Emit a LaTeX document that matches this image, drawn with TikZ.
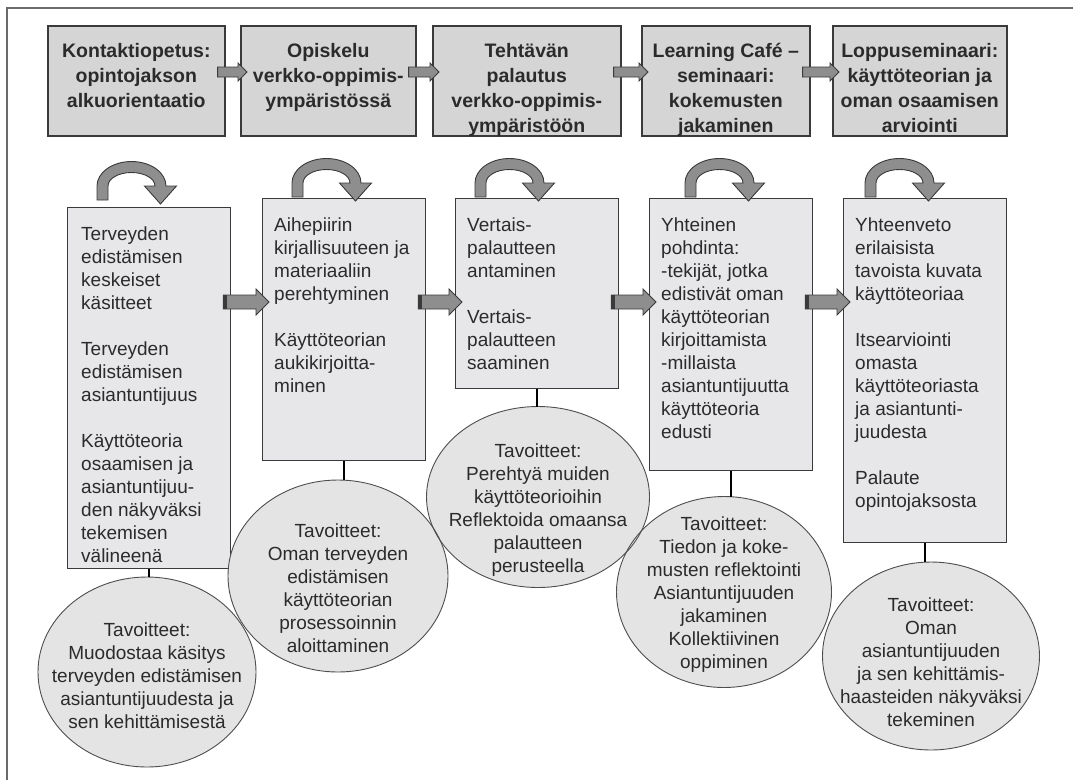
\documentclass[tikz,border=0pt]{standalone}
\usepackage{fontspec}
\setmainfont{Liberation Sans}
\usetikzlibrary{calc,shapes.geometric}
\definecolor{ink}{HTML}{2B2B2B}
\definecolor{boxline}{HTML}{3A3A3A}
\definecolor{topfill}{HTML}{D5D5D5}
\definecolor{lowfill}{HTML}{E7E7EA}
\definecolor{goalfill}{HTML}{E4E4E4}
\definecolor{flowfill}{HTML}{8E8E8E}
\definecolor{rim}{HTML}{6A6A6A}
\tikzset{
  phase/.style={draw=boxline, line width=1.6pt, fill=topfill, minimum height=110pt, anchor=north west, inner sep=0pt},
  phasetext/.style={anchor=north, align=center, text=ink, inner sep=0pt, font=\fontsize{19.5}{25}\selectfont\bfseries},
  work/.style={draw=boxline, line width=1.2pt, fill=lowfill, minimum width=163pt, anchor=north west, inner sep=0pt},
  worktext/.style={anchor=north west, align=left, text=ink, inner sep=0pt, font=\fontsize{19}{23}\selectfont},
  goal/.style={ellipse, fill=goalfill, inner sep=0pt, outer sep=0pt},
  goalline/.style={draw=boxline!90, line width=0.9pt},
  goaltext/.style={align=center, text=ink, inner sep=0pt, font=\fontsize{19}{23}\selectfont},
  link/.style={line width=2.6pt, draw=black},
  flow/.style={fill=flowfill, draw=boxline, line width=0.9pt},
  turn/.pic={
    \filldraw[flow] (-34.5,0) -- (-34.5,-14)
      arc[start angle=180, end angle=360, x radius=34.5, y radius=24.5]
      -- (45,-14) -- (29,4) -- (13,-14) -- (23.5,-14)
      arc[start angle=360, end angle=180, x radius=23.5, y radius=13.5]
      -- (-23.5,0) -- cycle;
  }
}
% block arrow between two boxes: [stripe]{from}{to}{y}{half shaft}{half head}
\newcommand{\blockarrow}[6][0]{%
  \coordinate (tail) at ($(#2.east |- 0,#4)+(-8,0)$);
  \coordinate (head) at ($(#3.west |- 0,#4)+(7,0)$);
  \filldraw[flow] ($(tail)+(0,-#5)$) -- ($(head)+(-#6,-#5)$) -- ($(head)+(-#6,-#6)$)
    -- (head) -- ($(head)+(-#6,#6)$) -- ($(head)+(-#6,#5)$) -- ($(tail)+(0,#5)$) -- cycle;
  \fill[boxline] ($(tail)+(0,-#5)$) rectangle ($(tail)+(#1,#5)$);}

\begin{document}
\begin{tikzpicture}[x=1pt,y=-1pt]
\useasboundingbox (0,0) rectangle (1073,780);
\fill[white] (0,0) rectangle (1073,780);

% frame
\draw[rim, line width=1.5pt] (1073,8) -- (7,8) -- (7,780);

% Phases
\node[phase, minimum width=177pt] (k1) at (47,25) {};
\node[phase, minimum width=175pt] (k2) at (240,25) {};
\node[phase, minimum width=188pt] (k3) at (432,25) {};
\node[phase, minimum width=168pt] (k4) at (641,25) {};
\node[phase, minimum width=174pt] (k5) at (832,25) {};

\node[phasetext] (kt1) at ($(k1.north)+(0,18)$) {Kontaktiopetus:\\opintojakson\\alkuorientaatio};
\node[phasetext] (kt2) at ($(k2.north)+(0,18)$) {Opiskelu\\verkko-oppimis-\\ympäristössä};
\node[phasetext] (kt3) at ($(k3.north)+(0,18)$) {Tehtävän\\palautus\\verkko-oppimis-\\ympäristöön};
\node[phasetext] (kt4) at ($(k4.north)+(0,18)$) {Learning Café –\\seminaari:\\kokemusten\\jakaminen};
\node[phasetext] (kt5) at ($(k5.north)+(0,18)$) {Loppuseminaari:\\käyttöteorian ja\\oman osaamisen\\arviointi};

\blockarrow{k1}{k2}{72}{5}{9}
\blockarrow{k2}{k3}{72}{5}{9}
\blockarrow{k3}{k4}{72}{5}{9}
\blockarrow{k4}{k5}{72}{5}{9}

% Work
\node[work, minimum height=361pt] (w1) at (67,207) {};
\node[work, minimum height=262pt] (w2) at (262,198) {};
\node[work, minimum height=190pt] (w3) at (455,198) {};
\node[work, minimum height=272pt] (w4) at (649,198) {};
\node[work, minimum height=344pt] (w5) at (843,198) {};

\foreach \cx/\cy in {131.5/200,326.5/197,509.5/197,719.5/197,899.5/197}
  \pic at (\cx,\cy) {turn};

\node[worktext] (wt1) at ($(w1.north west)+(14,20)$) {Terveyden\\edistämisen\\keskeiset\\käsitteet\\[23pt]Terveyden\\edistämisen\\asiantuntijuus\\[23pt]Käyttöteoria\\osaamisen ja\\asiantuntijuu-\\den näkyväksi\\tekemisen\\välineenä};
\node[worktext] (wt2) at ($(w2.north west)+(12,20)$) {Aihepiirin\\kirjallisuuteen ja\\materiaaliin\\perehtyminen\\[23pt]Käyttöteorian\\aukikirjoitta-\\minen};
\node[worktext] (wt3) at ($(w3.north west)+(12,20)$) {Vertais-\\palautteen\\antaminen\\[23pt]Vertais-\\palautteen\\saaminen};
\node[worktext] (wt4) at ($(w4.north west)+(12,20)$) {Yhteinen\\pohdinta:\\-tekijät, jotka\\edistivät oman\\käyttöteorian\\kirjoittamista\\-millaista\\asiantuntijuutta\\käyttöteoria\\edusti};
\node[worktext] (wt5) at ($(w5.north west)+(12,20)$) {Yhteenveto\\erilaisista\\tavoista kuvata\\käyttöteoriaa\\[23pt]Itsearviointi\\omasta\\käyttöteoriasta\\ja asiantunti-\\juudesta\\[23pt]Palaute\\opintojaksosta};

\blockarrow[4]{w1}{w2}{302}{7}{13}
\blockarrow[4]{w2}{w3}{302}{7}{13}
\blockarrow[4]{w3}{w4}{302}{7}{13}
\blockarrow[4]{w4}{w5}{302}{7}{13}

% Goals
\node[goal, minimum width=218pt, minimum height=190pt] (e1) at (147,672) {};
\node[goal, minimum width=220pt, minimum height=192pt] (e2) at (338,576) {};
\node[goal, minimum width=223pt, minimum height=181pt] (e3) at (538,497) {};
\node[goal, minimum width=215pt, minimum height=191pt] (e4) at (724,592) {};
\node[goal, minimum width=217pt, minimum height=188pt] (e5) at (931,656) {};

\foreach \g in {e1,e2,e3,e4,e5}
  \draw[goalline] let \p1=($(\g.east)-(\g.center)$), \p2=($(\g.north)-(\g.center)$)
    in (\g.center) ellipse [x radius=\x1, y radius=\y2];

\draw[link] (w1.south) -- (w1.south |- e1.north);
\draw[link] (w2.south) -- (w2.south |- e2.north);
\draw[link] (w3.south) -- (w3.south |- e3.north);
\draw[link] (w4.south) -- (w4.south |- e4.north);
\draw[link] (w5.south) -- (w5.south |- e5.north);

\node[goaltext] (g1) at ($(e1)+(0,4)$) {Tavoitteet:\\Muodostaa käsitys\\terveyden edistämisen\\asiantuntijuudesta ja\\sen kehittämisestä};
\node[goaltext] (g2) at ($(e2)+(0,12)$) {Tavoitteet:\\Oman terveyden\\edistämisen\\käyttöteorian\\prosessoinnin\\aloittaminen};
\node[goaltext] (g3) at ($(e3)+(0,13)$) {Tavoitteet:\\Perehtyä muiden\\käyttöteorioihin\\Reflektoida omaansa\\palautteen\\perusteella};
\node[goaltext] (g4) at ($(e4)+(0,3)$) {Tavoitteet:\\Tiedon ja koke-\\musten reflektointi\\Asiantuntijuuden\\jakaminen\\Kollektiivinen\\oppiminen};
\node[goaltext] (g5) at ($(e5)+(0,6)$) {Tavoitteet:\\Oman\\asiantuntijuuden\\ja sen kehittämis-\\haasteiden näkyväksi\\tekeminen};

\end{tikzpicture}
\end{document}
